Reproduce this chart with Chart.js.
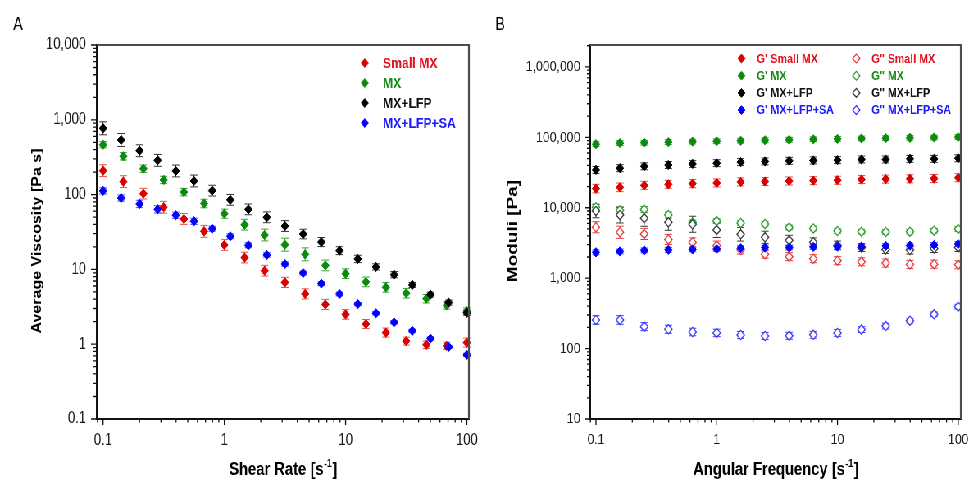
<!DOCTYPE html>
<html>
<head>
<meta charset="utf-8">
<title>Rheology of MX formulations</title>
<script src="https://cdn.jsdelivr.net/npm/chart.js@4/dist/chart.umd.min.js"></script>
<style>
  html, body { margin: 0; padding: 0; background: #fff; overflow: hidden; }
  /* figure is laid out on a wider sheet and compressed horizontally */
  #sheet { position: absolute; left: 0; top: 0; width: 1182px; height: 483px;
           transform: scaleX(0.8198); transform-origin: 0 0; }
  .panel { position: absolute; top: 0; width: 591px; height: 483px; }
  #panelA { left: 0; }
  #panelB { left: 591px; }
  canvas { display: block; }
</style>
</head>
<body>
<div id="sheet">
  <div class="panel" id="panelA"><canvas id="chartA" width="591" height="483"></canvas></div>
  <div class="panel" id="panelB"><canvas id="chartB" width="591" height="483"></canvas></div>
</div>
<script>
// ---------- Panel A: steady shear viscosity ----------
const shearRateFine   = [0.1, 0.141, 0.2, 0.282, 0.398, 0.562, 0.794, 1.12, 1.58, 2.24, 3.16, 4.47, 6.31, 8.91, 12.6, 17.8, 25.1, 35.5, 50.1, 70.8, 100];
const shearRateCoarse = [0.1, 0.147, 0.215, 0.316, 0.464, 0.681, 1, 1.47, 2.15, 3.16, 4.64, 6.81, 10, 14.7, 21.5, 31.6, 46.4, 68.1, 100];

const viscSmallMX = [209, 149, 103, 67.7, 47.2, 32.3, 21.2, 14.4, 9.6, 6.7, 4.7, 3.4, 2.5, 1.86, 1.43, 1.10, 0.98, 0.95, 1.05];
const viscMX      = [464, 325, 222, 157, 108, 76, 55.6, 39.6, 28.8, 21.4, 15.9, 11.3, 8.77, 6.8, 5.76, 4.8, 4.06, 3.3, 2.78];
const viscLFP     = [770, 537, 386, 287, 207, 152, 113, 85, 63.5, 49.7, 38, 29.7, 23.2, 17.8, 13.8, 10.8, 8.5, 6.2, 4.6, 3.6, 2.63];
const viscLFPSA   = [112, 90, 75, 63.5, 53, 44, 35, 27.7, 21, 15.6, 11.8, 8.95, 6.45, 4.69, 3.44, 2.59, 1.96, 1.51, 1.19, 0.92, 0.72];

// relative standard deviations
const viscSmallMXErr = [0.2, 0.2, 0.18, 0.2, 0.18, 0.2, 0.18, 0.18, 0.18, 0.17, 0.17, 0.17, 0.16, 0.15, 0.15, 0.13, 0.12, 0.12, 0.15];
const viscMXErr      = [0.1, 0.12, 0.12, 0.12, 0.12, 0.14, 0.15, 0.18, 0.2, 0.22, 0.22, 0.18, 0.16, 0.16, 0.16, 0.16, 0.14, 0.12, 0.1];
const viscLFPErr     = [0.22, 0.22, 0.2, 0.2, 0.2, 0.2, 0.18, 0.18, 0.18, 0.18, 0.18, 0.16, 0.15, 0.13, 0.12, 0.1, 0.1, 0.08, 0.08, 0.08, 0.08];
const viscLFPSAErr   = [0.1, 0.1, 0.12, 0.12, 0.1, 0.1, 0.08, 0.08, 0.08, 0.07, 0.07, 0.06, 0.06, 0.06, 0.05, 0.05, 0.05, 0.05, 0.05, 0.05, 0.05];

const viscTickValues = [0.1, 1, 10, 100, 1000, 10000];
const viscTickLabels = ['0.1', '1', '10', '100', '1,000', '10,000'];
const rateTickValues = [0.1, 1, 10, 100];
const rateTickLabels = ['0.1', '1', '10', '100'];

// ---------- Panel B: oscillatory frequency sweep ----------
const angFreq = [0.1, 0.158, 0.251, 0.398, 0.631, 1, 1.58, 2.51, 3.98, 6.31, 10, 15.8, 25.1, 39.8, 63.1, 100];

const gStoreSmallMX = [18700, 19500, 20800, 21500, 22000, 22500, 23300, 23600, 24000, 24300, 24600, 25200, 25500, 25800, 26000, 26700];
const gStoreMX      = [80000, 83000, 84000, 85500, 87000, 88000, 89500, 91000, 92500, 94000, 95000, 96500, 97500, 98500, 99500, 101000];
const gStoreLFP     = [34500, 36500, 38800, 40500, 42000, 43000, 44500, 45500, 46500, 47000, 47500, 48500, 48500, 49500, 49500, 50500];
const gStoreLFPSA   = [2330, 2400, 2480, 2530, 2560, 2600, 2660, 2720, 2720, 2780, 2810, 2810, 2870, 2900, 2960, 3060];
const gLossSmallMX  = [5290, 4490, 4250, 3550, 3220, 2900, 2510, 2190, 2020, 1890, 1770, 1710, 1640, 1570, 1580, 1550];
const gLossMX       = [10200, 9200, 9460, 7900, 6170, 6470, 6080, 5890, 5250, 5080, 4680, 4570, 4530, 4570, 4730, 5000];
const gLossLFP      = [9010, 7900, 7100, 6220, 5830, 4840, 4200, 3810, 3450, 3240, 2920, 2730, 2560, 2510, 2640, 2730];
const gLossLFPSA    = [255, 255, 205, 188, 172, 167, 156, 151, 152, 157, 167, 186, 209, 249, 307, 394];

const gStoreSmallMXErr = [0.15, 0.15, 0.14, 0.14, 0.14, 0.14, 0.14, 0.14, 0.14, 0.14, 0.14, 0.14, 0.14, 0.14, 0.14, 0.14];
const gStoreMXErr      = [0.08, 0.08, 0.08, 0.08, 0.08, 0.08, 0.08, 0.08, 0.08, 0.08, 0.08, 0.08, 0.08, 0.08, 0.08, 0.08];
const gStoreLFPErr     = [0.12, 0.12, 0.12, 0.12, 0.12, 0.12, 0.12, 0.12, 0.12, 0.12, 0.12, 0.12, 0.12, 0.12, 0.12, 0.12];
const gStoreLFPSAErr   = [0.08, 0.08, 0.08, 0.08, 0.08, 0.08, 0.08, 0.08, 0.08, 0.08, 0.08, 0.08, 0.08, 0.08, 0.08, 0.08];
const gLossSmallMXErr  = [0.2, 0.22, 0.2, 0.18, 0.16, 0.16, 0.14, 0.14, 0.14, 0.14, 0.14, 0.14, 0.14, 0.14, 0.14, 0.14];
const gLossMXErr       = [0.08, 0.1, 0.1, 0.1, 0.08, 0.08, 0.08, 0.08, 0.08, 0.08, 0.08, 0.08, 0.08, 0.08, 0.08, 0.08];
const gLossLFPErr      = [0.25, 0.3, 0.3, 0.3, 0.3, 0.28, 0.25, 0.22, 0.18, 0.15, 0.15, 0.14, 0.14, 0.14, 0.14, 0.14];
const gLossLFPSAErr    = [0.15, 0.15, 0.14, 0.14, 0.13, 0.13, 0.12, 0.12, 0.12, 0.12, 0.12, 0.1, 0.1, 0.08, 0.08, 0.08];

const moduliTickValues = [10, 100, 1000, 10000, 100000, 1000000];
const moduliTickLabels = ['10', '100', '1,000', '10,000', '100,000', '1,000,000'];
const freqTickValues = [0.1, 1, 10, 100];
const freqTickLabels = ['0.1', '1', '10', '100'];

// ---------- helpers ----------
const FONT = "'Liberation Sans', Arial, Helvetica, sans-serif";

const RED = '#d90000', GREEN = '#0b8a0b', BLACK = '#000000', BLUE = '#0000ff';

function pts(xs, ys) { return xs.map((x, i) => ({ x: x, y: ys[i] })); }

function isDecade(v) { const l = Math.log10(v); return Math.abs(l - Math.round(l)) < 1e-6; }

// every 1..9 multiple inside the axis range
function decadeTicks(scale) {
  const out = [];
  const e0 = Math.floor(Math.log10(scale.min)), e1 = Math.ceil(Math.log10(scale.max));
  for (let e = e0; e <= e1; e++) {
    for (let m = 1; m <= 9; m++) {
      const v = +(m * Math.pow(10, e)).toPrecision(6);
      if (v >= scale.min * 0.9999 && v <= scale.max * 1.0001) out.push({ value: v });
    }
  }
  scale.ticks = out;
}

function labeler(values, labels) {
  return function (value) {
    const i = values.findIndex(t => Math.abs(t - value) / t < 1e-6);
    return i >= 0 ? labels[i] : '';
  };
}

function filledSet(label, xs, ys, errs, color, errColor, textColor) {
  return {
    label: label, data: pts(xs, ys), errors: errs,
    pointStyle: 'rectRot', pointRadius: 4.6, pointHoverRadius: 4.6,
    backgroundColor: color, borderColor: color, borderWidth: 1,
    errorColor: errColor, textColor: textColor, showLine: false, clip: false
  };
}

function openSet(label, xs, ys, errs, color, textColor) {
  return {
    label: label, data: pts(xs, ys), errors: errs,
    pointStyle: 'rectRot', pointRadius: 4.6, pointHoverRadius: 4.6,
    backgroundColor: '#ffffff', borderColor: color, borderWidth: 1.3,
    errorColor: color, textColor: textColor, showLine: false, clip: false
  };
}

// vertical error bars with caps, drawn underneath the markers
const errorBars = {
  id: 'errorBars',
  beforeDatasetsDraw(chart) {
    const ctx = chart.ctx, ys = chart.scales.y;
    ctx.save();
    ctx.lineWidth = 1;
    for (let di = chart.data.datasets.length - 1; di >= 0; di--) {
      const ds = chart.data.datasets[di];
      const meta = chart.getDatasetMeta(di);
      ctx.strokeStyle = ds.errorColor;
      meta.data.forEach((pt, i) => {
        const v = ds.data[i].y, e = ds.errors[i];
        const yHi = ys.getPixelForValue(v * (1 + e));
        const yLo = ys.getPixelForValue(v / (1 + e));
        const x = pt.x, cap = 4.5;
        ctx.beginPath();
        ctx.moveTo(x, yHi); ctx.lineTo(x, yLo);
        ctx.moveTo(x - cap, yHi); ctx.lineTo(x + cap, yHi);
        ctx.moveTo(x - cap, yLo); ctx.lineTo(x + cap, yLo);
        ctx.stroke();
      });
    }
    ctx.restore();
  }
};

// closing frame on top/right plus major and minor tick marks
const frameTicks = {
  id: 'frameTicks',
  afterDraw(chart) {
    const ctx = chart.ctx, a = chart.chartArea;
    const xs = chart.scales.x, ys = chart.scales.y;
    ctx.save();
    ctx.strokeStyle = '#4d4d4d';
    ctx.lineWidth = 2.2;
    ctx.beginPath();
    ctx.moveTo(a.left, a.top); ctx.lineTo(a.right, a.top); ctx.lineTo(a.right, a.bottom);
    ctx.stroke();
    ctx.strokeStyle = '#111';
    ctx.lineWidth = 1.3;
    ctx.beginPath();
    xs.ticks.forEach(t => {
      const px = xs.getPixelForValue(t.value);
      const len = isDecade(t.value) ? 6 : 3.5;
      ctx.moveTo(px, a.bottom); ctx.lineTo(px, a.bottom + len);
    });
    ys.ticks.forEach(t => {
      const py = ys.getPixelForValue(t.value);
      const len = isDecade(t.value) ? 7 : 4;
      ctx.moveTo(a.left, py); ctx.lineTo(a.left - len, py);
    });
    ctx.stroke();
    ctx.restore();
  }
};

function diamond(ctx, x, y, r) {
  ctx.beginPath();
  ctx.moveTo(x - r, y); ctx.lineTo(x, y - r); ctx.lineTo(x + r, y); ctx.lineTo(x, y + r);
  ctx.closePath();
}

// panel letter, axis titles and the in-plot key
const panelText = {
  id: 'panelText',
  afterDraw(chart, args, o) {
    const ctx = chart.ctx, a = chart.chartArea;
    ctx.save();
    ctx.textBaseline = 'middle';

    // panel letter
    ctx.fillStyle = '#000';
    ctx.textAlign = 'center';
    ctx.font = `18px ${FONT}`;
    ctx.fillText(o.letter, o.letterX, o.letterY);

    // x title with superscript unit
    const mainFont = `bold 18px ${FONT}`, supFont = `bold 11px ${FONT}`;
    ctx.font = mainFont; const w1 = ctx.measureText(o.xTitle[0]).width;
    const w3 = ctx.measureText(o.xTitle[2]).width;
    ctx.font = supFont; const w2 = ctx.measureText(o.xTitle[1]).width;
    let x0 = (a.left + a.right) / 2 - (w1 + w2 + w3) / 2;
    ctx.textAlign = 'left';
    ctx.font = mainFont; ctx.fillText(o.xTitle[0], x0, o.xTitleY);
    ctx.font = supFont; ctx.fillText(o.xTitle[1], x0 + w1 + 0.5, o.xTitleY - 6);
    ctx.font = mainFont; ctx.fillText(o.xTitle[2], x0 + w1 + w2 + 1, o.xTitleY);

    // y title
    ctx.save();
    ctx.translate(o.yTitleX, o.yTitleY);
    ctx.rotate(-Math.PI / 2);
    ctx.textAlign = 'center';
    ctx.font = `bold ${o.yTitleSize}px ${FONT}`;
    ctx.fillText(o.yTitle, 0, 0);
    ctx.restore();

    // key
    ctx.textAlign = 'left';
    ctx.font = `bold ${o.key.size}px ${FONT}`;
    o.key.columns.forEach(col => {
      col.items.forEach((di, r) => {
        const ds = chart.data.datasets[di];
        const y = o.key.top + r * o.key.step;
        diamond(ctx, col.markerX, y, 4.4);
        ctx.fillStyle = ds.backgroundColor; ctx.fill();
        ctx.lineWidth = ds.borderWidth; ctx.strokeStyle = ds.borderColor; ctx.stroke();
        ctx.fillStyle = ds.textColor;
        ctx.fillText(ds.label, col.textX, y + 0.5);
      });
    });
    ctx.restore();
  }
};

function buildChart(canvasId, datasets, ax, text) {
  return new Chart(document.getElementById(canvasId), {
    type: 'scatter',
    data: { datasets: datasets },
    plugins: [errorBars, frameTicks, panelText],
    options: {
      responsive: false, animation: false, devicePixelRatio: 1,
      events: [],
      layout: { padding: { left: 0, top: 45, right: ax.padRight, bottom: 0 } },
      plugins: { legend: { display: false }, tooltip: { enabled: false }, panelText: text },
      scales: {
        x: {
          type: 'logarithmic', position: 'bottom', min: ax.xMin, max: ax.xMax,
          grid: { display: false, drawTicks: true, tickLength: 6 },
          border: { display: true, color: '#111', width: 2 },
          ticks: { autoSkip: false, maxRotation: 0, minRotation: 0, padding: 6, color: '#1a1a1a',
                   font: { family: FONT, size: ax.tickSize }, callback: labeler(ax.xTickValues, ax.xTickLabels) },
          afterBuildTicks: decadeTicks,
          afterFit(s) { s.height = 64; s.paddingLeft = 0; s.paddingRight = 0; }
        },
        y: {
          type: 'logarithmic', position: 'left', min: ax.yMin, max: ax.yMax,
          grid: { display: false, drawTicks: true, tickLength: 7 },
          border: { display: true, color: '#111', width: 2 },
          ticks: { autoSkip: false, padding: ax.yPad, color: '#1a1a1a',
                   font: { family: FONT, size: ax.tickSize }, callback: labeler(ax.yTickValues, ax.yTickLabels) },
          afterBuildTicks: decadeTicks,
          afterFit(s) { s.width = ax.yWidth; s.paddingTop = 0; s.paddingBottom = 0; }
        }
      }
    }
  });
}

// Panel A
buildChart('chartA', [
  filledSet('MX+LFP+SA', shearRateFine, viscLFPSA, viscLFPSAErr, BLUE, '#4a4aff', '#1b1bff'),
  filledSet('MX+LFP', shearRateFine, viscLFP, viscLFPErr, BLACK, '#333333', '#111111'),
  filledSet('MX', shearRateCoarse, viscMX, viscMXErr, GREEN, '#3aa03a', '#178a17'),
  filledSet('Small MX', shearRateCoarse, viscSmallMX, viscSmallMXErr, RED, '#e65050', '#e0101e')
], {
  xMin: 0.0887, xMax: 104, yMin: 0.1, yMax: 10000, padRight: 19, yWidth: 118, yPad: 6, tickSize: 16,
  xTickValues: rateTickValues, xTickLabels: rateTickLabels,
  yTickValues: viscTickValues, yTickLabels: viscTickLabels
}, {
  letter: 'A', letterX: 22, letterY: 25,
  xTitle: ['Shear Rate [s', '-1', ']'], xTitleY: 470,
  yTitle: 'Average Viscosity [Pa s]', yTitleX: 46, yTitleY: 241, yTitleSize: 16,
  key: { size: 15, top: 63, step: 20, columns: [ { markerX: 445, textX: 467, items: [3, 2, 1, 0] } ] }
});

// Panel B
buildChart('chartB', [
  filledSet("G' MX+LFP+SA", angFreq, gStoreLFPSA, gStoreLFPSAErr, BLUE, '#4a4aff', '#1b1bff'),
  filledSet("G' MX+LFP", angFreq, gStoreLFP, gStoreLFPErr, BLACK, '#333333', '#111111'),
  filledSet("G' MX", angFreq, gStoreMX, gStoreMXErr, GREEN, '#3aa03a', '#178a17'),
  filledSet("G' Small MX", angFreq, gStoreSmallMX, gStoreSmallMXErr, RED, '#e65050', '#e0101e'),
  openSet('G" MX+LFP+SA', angFreq, gLossLFPSA, gLossLFPSAErr, '#3b3bff', '#1b1bff'),
  openSet('G" MX+LFP', angFreq, gLossLFP, gLossLFPErr, '#3a3a3a', '#111111'),
  openSet('G" MX', angFreq, gLossMX, gLossMXErr, '#2e9e2e', '#178a17'),
  openSet('G" Small MX', angFreq, gLossSmallMX, gLossSmallMXErr, '#e83a3a', '#e0101e')
], {
  xMin: 0.0897, xMax: 105, yMin: 10, yMax: 2050000, padRight: 10, yWidth: 129, yPad: 5, tickSize: 15,
  xTickValues: freqTickValues, xTickLabels: freqTickLabels,
  yTickValues: moduliTickValues, yTickLabels: moduliTickLabels
}, {
  letter: 'B', letterX: 19, letterY: 25,
  xTitle: ['Angular Frequency [s', '-1', ']'], xTitleY: 470,
  yTitle: 'Moduli [Pa]', yTitleX: 35, yTitleY: 231, yTitleSize: 19,
  key: { size: 13, top: 58.5, step: 17.2, columns: [
    { markerX: 313.5, textX: 332, items: [3, 2, 1, 0] },
    { markerX: 453.5, textX: 472, items: [7, 6, 5, 4] }
  ] }
});
</script>
</body>
</html>
